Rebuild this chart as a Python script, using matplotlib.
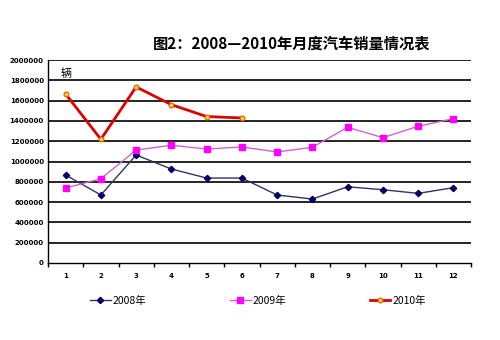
import matplotlib
matplotlib.use("Agg")
import matplotlib.pyplot as plt
from matplotlib.ticker import FixedLocator

plt.rcParams['font.family'] = ['Noto Sans CJK SC', 'DejaVu Sans']

months = list(range(1, 13))
month_labels = [str(m) for m in months]
sales_2008 = [867000, 670000, 1064000, 926000, 837000, 837000, 670000, 630000, 751000, 722000, 686000, 742000]
sales_2009 = [739000, 830000, 1113000, 1160000, 1123000, 1143000, 1094000, 1140000, 1337000, 1235000, 1347000, 1422000]
months_2010 = [1, 2, 3, 4, 5, 6]
sales_2010 = [1665000, 1219000, 1735000, 1560000, 1443000, 1429000]
yticks = list(range(0, 2000001, 200000))

fig = plt.figure(figsize=(5, 3.4), dpi=100)
ax = fig.add_axes([0.096, 0.2265, 0.846, 0.597])

for y in yticks[1:]:
    ax.axhline(y, color='black', lw=1.2, zorder=1)

l1, = ax.plot(months, sales_2008, color='#333366', lw=1.0, marker='D', ms=3.2,
              mfc='#000066', mec='#000066', zorder=3, label='2008年')
l2, = ax.plot(months, sales_2009, color='#CC66CC', lw=1.0, marker='s', ms=4,
              mfc='#FF00FF', mec='#FF00FF', zorder=3, label='2009年')
l3, = ax.plot(months_2010, sales_2010, color='#DD0000', lw=2.0, marker='o', ms=3.5,
              mfc='#FFCC33', mec='#CC6600', mew=0.8, zorder=4, label='2010年')

ax.set_xlim(0.5, 12.5)
ax.set_ylim(0, 2000000)
ax.set_yticks(yticks)
ax.set_yticklabels([str(v) for v in yticks], fontsize=5, fontweight='bold', family='DejaVu Sans')
ax.set_xticks(months)
ax.set_xticklabels(month_labels, fontsize=5, fontweight='bold', family='DejaVu Sans')
ax.xaxis.set_minor_locator(FixedLocator([m + 0.5 for m in range(0, 13)]))
ax.tick_params(axis='x', which='major', length=0, pad=7)
ax.tick_params(axis='x', which='minor', length=3, width=1, direction='out')
ax.tick_params(axis='y', which='major', length=0, pad=3)
for s in ['top', 'right']:
    ax.spines[s].set_visible(False)
ax.spines['left'].set_linewidth(1.0)
ax.spines['bottom'].set_linewidth(1.0)

ax.text(0.03, 0.935, '辆', transform=ax.transAxes, fontsize=8, va='center', ha='left')

fig.text(0.583, 0.873, '图2：2008—2010年月度汽车销量情况表', ha='center', va='center',
         fontsize=11, fontweight='bold')

fig.legend(handles=[l1, l2, l3], loc='center', bbox_to_anchor=(0.516, 0.115), ncol=3,
           frameon=False, fontsize=7.5, columnspacing=8.0, handlelength=2.0, handletextpad=0.2)

fig.savefig('out.png', dpi=100)
